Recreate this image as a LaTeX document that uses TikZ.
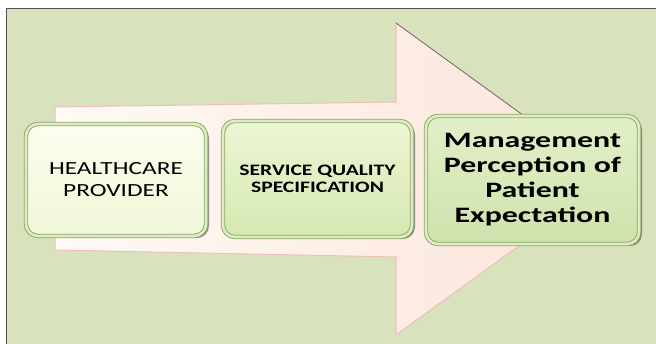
\documentclass[tikz,border=0pt]{standalone}
\usepackage{fontspec}
\setmainfont{Carlito}
\newfontfamily\hfont[FakeStretch=1.37]{Carlito}
\newfontfamily\sfontx[FakeStretch=1.35]{Carlito}
\newfontfamily\mfont[FakeStretch=1.45]{Carlito}
\usetikzlibrary{shadows}
\definecolor{panel}{RGB}{216,226,189}
\definecolor{panelline}{RGB}{80,80,80}
\definecolor{arrowL}{RGB}{255,250,244}
\definecolor{arrowR}{RGB}{251,228,218}
\definecolor{arrowline}{RGB}{235,192,186}
\definecolor{boxline}{RGB}{140,168,100}
\definecolor{boxhi}{RGB}{222,236,198}
\definecolor{hTop}{RGB}{252,254,238}
\definecolor{hBot}{RGB}{240,247,216}
\definecolor{sTop}{RGB}{236,246,212}
\definecolor{sBot}{RGB}{214,232,178}
\definecolor{mTop}{RGB}{226,240,200}
\definecolor{mBot}{RGB}{206,226,172}
\tikzset{
  stagebox/.style={rounded corners=12pt, draw=boxline, line width=0.9pt,
    double=boxhi, double distance=2.6pt, align=center, inner sep=0pt,
    drop shadow={shadow xshift=3pt, shadow yshift=-2pt, opacity=0.55, fill=black!75}},
}
\begin{document}
\begin{tikzpicture}[x=1pt,y=-1pt]
\useasboundingbox (0,0) rectangle (656,344);
\fill[white] (0,0) rectangle (656,344);
\fill[panel] (6.5,8.5) rectangle (656,344);
\draw[panelline, line width=1.5pt] (6.5,344) -- (6.5,8.5) -- (656,8.5);
% big arrow
\shade[left color=arrowL, right color=arrowR, draw=arrowline, line width=1pt]
  (55,107) -- (396,102) -- (396,23) -- (611,179) -- (396,335) -- (396,257) -- (55,250) -- cycle;
\draw[black!60, line width=0.7pt] (396,23) -- (611,179);
% boxes
\node[stagebox, top color=hTop, bottom color=hBot, minimum width=180pt, minimum height=112pt,
  font=\hfont\fontsize{18.5}{22}\selectfont] (h) at (116,180) {HEALTHCARE\\PROVIDER};
\node[stagebox, top color=sTop, bottom color=sBot, minimum width=189pt, minimum height=116pt,
  font=\sfontx\bfseries\fontsize{16}{17}\selectfont] (s) at (317.5,179) {SERVICE QUALITY\\SPECIFICATION};
\node[stagebox, top color=mTop, bottom color=mBot, minimum width=213pt, minimum height=128pt,
  font=\mfont\bfseries\fontsize{22}{25}\selectfont] (m) at (532.5,180) {Management\\Perception of\\Patient\\Expectation};
\end{tikzpicture}
\end{document}
